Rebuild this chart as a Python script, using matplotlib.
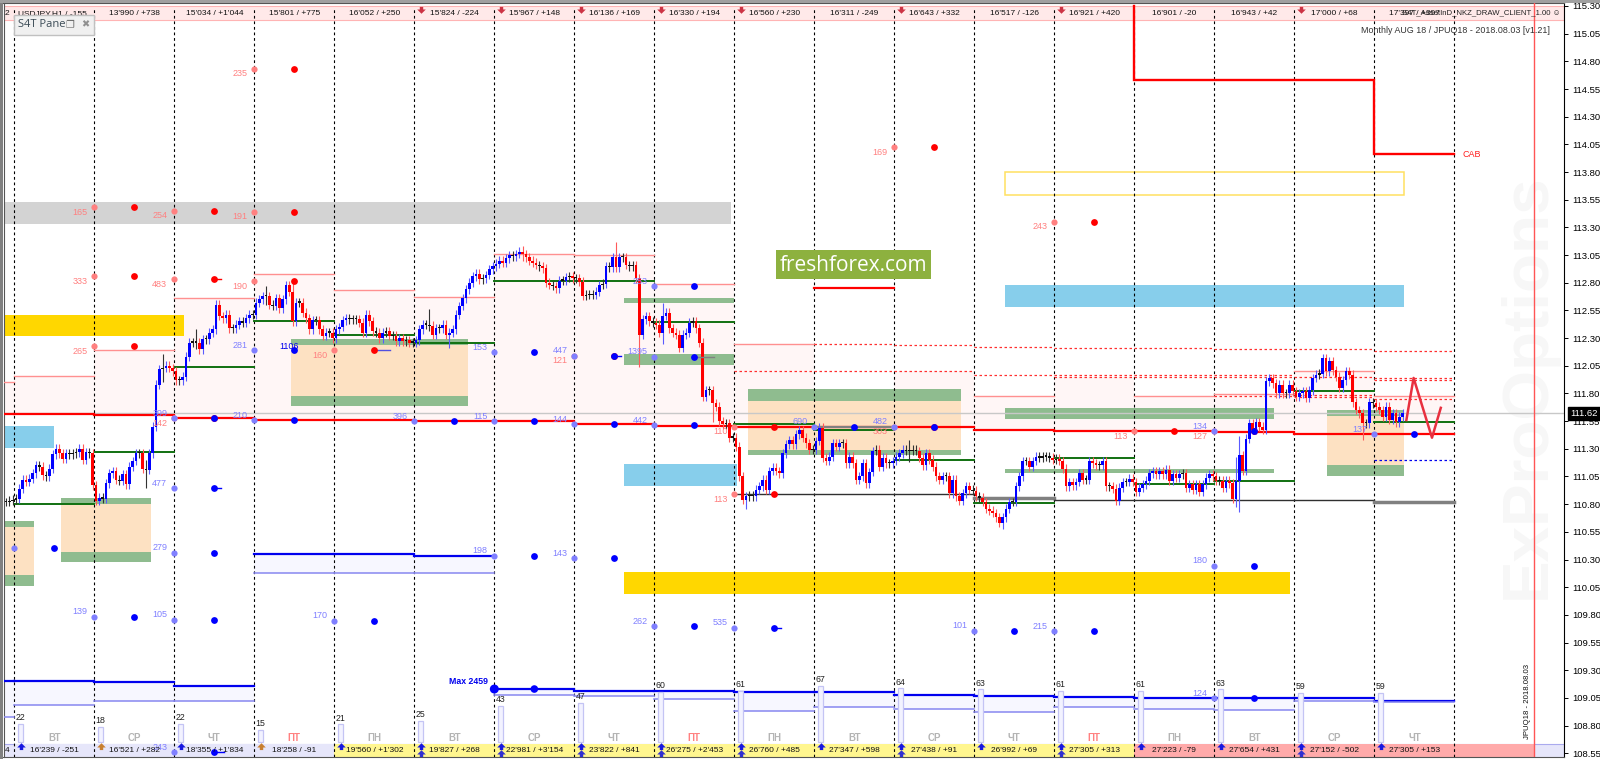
import numpy as np
import matplotlib
matplotlib.use('Agg')
import matplotlib.pyplot as plt
from matplotlib.patches import Rectangle

plt.rcParams['font.family'] = ['Liberation Sans', 'DejaVu Sans']

# hourly closes, one list per day (24 candles a day)
before = [110.82, 110.83, 110.84]
closes = [
    [110.85,110.94,111.02,111.00,111.03,111.08,111.15,111.14,111.06,111.05,111.12,111.25,111.30,111.26,111.21,111.26,111.25,111.26,111.27,111.30,111.20,111.27,111.26,110.97],
    [110.83,110.86,110.85,110.99,111.08,111.10,111.02,111.01,111.07,110.98,111.14,111.19,111.26,111.26,111.12,111.11,111.26,111.50,111.88,112.02,112.03,112.05,112.03,112.00],
    [111.92,111.92,111.95,112.13,112.26,112.26,112.26,112.20,112.29,112.29,112.35,112.38,112.60,112.50,112.48,112.51,112.39,112.39,112.42,112.45,112.44,112.48,112.51,112.51],
    [112.62,112.65,112.68,112.68,112.60,112.59,112.66,112.57,112.65,112.78,112.72,112.45,112.62,112.62,112.53,112.48,112.38,112.46,112.46,112.38,112.32,112.35,112.35,112.30],
    [112.38,112.40,112.46,112.48,112.47,112.47,112.47,112.44,112.35,112.51,112.45,112.36,112.35,112.30,112.35,112.36,112.32,112.32,112.27,112.30,112.27,112.28,112.26,112.26],
    [112.28,112.38,112.42,112.42,112.41,112.33,112.39,112.39,112.42,112.33,112.35,112.38,112.51,112.59,112.66,112.74,112.80,112.86,112.88,112.83,112.84,112.87,112.92,112.95],
    [112.97,113.00,112.98,113.02,113.05,113.04,113.06,113.08,113.06,113.03,113.00,112.98,112.96,112.95,112.93,112.80,112.78,112.77,112.75,112.82,112.82,112.85,112.86,112.84],
    [112.84,112.81,112.68,112.69,112.69,112.69,112.72,112.78,112.79,112.95,112.94,113.03,112.94,113.03,113.03,112.96,112.95,112.96,112.84,112.33,112.47,112.50,112.45,112.44],
    [112.42,112.35,112.50,112.53,112.39,112.35,112.33,112.21,112.33,112.35,112.44,112.45,112.39,112.26,111.77,111.83,111.83,111.71,111.68,111.55,111.52,111.53,111.40,111.40],
    [111.32,111.05,110.84,110.87,110.88,110.87,110.93,110.96,111.02,110.93,111.10,111.13,111.10,111.08,111.26,111.34,111.38,111.34,111.43,111.47,111.40,111.35,111.29,111.29],
    [111.37,111.49,111.22,111.19,111.23,111.35,111.32,111.35,111.35,111.17,111.23,111.17,111.02,111.05,111.17,110.99,111.09,111.28,111.29,111.14,111.22,111.17,111.17,111.19],
    [111.23,111.26,111.29,111.28,111.28,111.29,111.28,111.22,111.15,111.26,111.20,111.14,111.05,111.02,111.05,111.05,110.90,111.02,110.87,110.83,110.90,110.96,110.93,110.92],
    [110.87,110.86,110.82,110.76,110.74,110.72,110.68,110.63,110.68,110.76,110.82,110.82,110.96,111.05,111.19,111.19,111.14,111.19,111.23,111.22,111.23,111.23,111.22,111.20],
    [111.21,111.19,111.12,110.96,111.00,110.97,111.00,111.08,111.02,111.02,111.19,111.17,111.15,111.15,111.19,110.96,110.96,110.94,110.83,110.95,111.00,111.00,111.03,111.00],
    [110.91,110.95,110.98,111.01,111.08,111.10,111.07,111.10,111.07,111.11,111.01,111.07,111.04,111.07,111.08,110.95,110.98,110.93,110.98,110.91,110.98,111.04,111.07,111.05],
    [111.01,111.01,110.95,111.01,110.99,110.85,111.01,111.24,111.10,111.39,111.53,111.47,111.54,111.50,111.47,111.91,111.94,111.89,111.80,111.88,111.80,111.80,111.88,111.82],
    [111.77,111.80,111.82,111.76,111.83,111.94,111.97,111.98,112.12,112.00,112.09,112.01,111.95,111.85,111.92,112.00,111.97,111.72,111.65,111.62,111.53,111.53,111.72,111.71],
    [111.68,111.65,111.59,111.68,111.56,111.62,111.54,111.59,111.62],
]
# day, hour, low, high of the long shadows
long_wicks = [(1,15,110.95,111.20),(1,20,111.90,112.16),(2,6,112.20,112.38),(3,3,112.60,112.77),
              (3,11,112.41,112.81),(5,4,112.36,112.56),(5,10,112.21,112.36),(6,8,113.00,113.13),
              (7,12,112.90,113.17),(7,19,112.04,112.85),(8,2,112.25,112.62),(8,17,111.54,111.75),
              (9,3,110.76,110.90),(11,4,111.18,111.38),(12,8,110.58,110.70),(15,6,110.77,111.23),
              (15,7,110.73,111.42),(16,20,111.38,111.65)]

top_labels = ["13'990 / +738","15'034 / +1'044","15'801 / +775","16'052 / +250","15'824 / -224","15'967 / +148",
              "16'136 / +169","16'330 / +194","16'560 / +230","16'311 / -249","16'643 / +332","16'517 / -126",
              "16'921 / +420","16'901 / -20","16'943 / +42","17'000 / +68","17'397 / +397"]
bottom_labels = ["16'239 / -251","16'521 / +282","18'355 / +1'834","18'258 / -91","19'560 / +1'302","19'827 / +268",
                 "22'981 / +3'154","23'822 / +841","26'275 / +2'453","26'760 / +485","27'347 / +598","27'438 / +91",
                 "26'992 / +69","27'305 / +313","27'223 / -79","27'654 / +431","27'152 / -502","27'305 / +153"]
weekdays = ['ВТ','СР','ЧТ','ПТ','ПН','ВТ','СР','ЧТ','ПТ','ПН','ВТ','СР','ЧТ','ПТ','ПН','ВТ','СР','ЧТ']
volumes = [22,18,22,15,21,25,43,47,60,61,67,64,63,61,61,63,59,59]
band_colors = ['#e6e6fa']*4 + ['#fff68f']*10 + ['#ffaaaa']*4
arrows_bottom = [1,1,1,1,1,2,2,2,2,2,1,2,1,2,1,1,2,1]
arrow_orange = [1,3]
arrows_top = [5,6,7,8,9,11,13,16]

# x0, x1 in days, y0, y1 in price
grey_zones = [(-0.13,8.96,113.33,113.53)]
gold_zones = [(-0.13,2.12,112.315,112.505),(7.62,15.95,109.99,110.19)]
sky_zones = [(-0.13,0.49,111.31,111.505),(7.62,9.03,110.965,111.16),(12.38,17.37,112.58,112.78)]
orange_zones = [(-0.13,0.247,110.16,110.59),(0.587,1.706,110.37,110.80),(3.464,5.672,111.78,112.24),
                (9.166,11.83,111.29,111.73),(16.41,17.37,111.15,111.595)]
green_zones = [(-0.13,0.247,110.59,110.65),(-0.13,0.247,110.06,110.16),(0.587,1.706,110.80,110.855),(0.587,1.706,110.28,110.37),
               (3.464,5.672,112.24,112.29),(3.464,5.672,111.69,111.78),(7.62,9.0,112.62,112.66),(7.62,9.0,112.06,112.155),
               (9.166,11.83,111.73,111.84),(9.166,11.83,111.24,111.29),(12.38,15.74,111.565,111.67),(12.38,15.74,111.08,111.12),
               (16.41,17.37,111.595,111.65),(16.41,17.37,111.05,111.15)]
yellow_box = (12.38,17.37,113.59,113.80)

# levels per day, first entry is day -1
line_days = list(range(-1,18))
red_line = [111.61,111.61,111.605,111.575,111.56,111.56,111.55,111.55,111.52,111.51,111.50,111.50,111.50,111.47,111.46,111.46,111.455,111.43,111.43]
pink_fill = [111.90,111.955,112.19,112.66,112.875,112.73,112.67,113.06,113.055,112.79,112.25,111.50,112.0,111.78,111.95,111.78,111.795,112.005,111.78]
pink_solid_days = [-1,0,1,2,3,4,5,6,7,8,9,12,14,15,16,17]
dashed_red = [(9,112.005),(10,112.25),(10,112.005),(11,112.24),(11,112.0),(12,112.22),(12,111.97),(13,112.21),(13,111.97),(13,111.95),
              (14,112.21),(14,111.97),(14,111.95),(15,112.2),(15,111.965),(15,111.95),(15,111.78),(16,112.2),(16,111.95),(16,111.79),(16,111.765),
              (17,112.18),(17,111.94),(17,111.92),(17,111.75)]
green_line = [110.80,111.275,112.035,112.45,112.33,112.26,112.82,112.815,112.445,111.52,111.47,111.2,110.81,111.22,110.98,111.005,111.82,111.545]
black_line = [(9,110.89,1),(10,110.89,1),(11,110.89,1),(12,110.86,2.5),(13,110.84,1),(14,110.84,1),(15,110.835,1),(16,110.835,1),(17,110.82,2.5)]
blue_thick = [109.20,109.20,109.19,109.155,110.35,110.35,110.335,109.13,109.115,109.11,109.10,109.10,109.08,109.065,109.055,109.045,109.045,109.045,109.02]
blue_thin = [108.875,108.99,109.02,109.02,110.175,110.18,110.175,109.08,109.065,109.04,108.93,108.965,108.95,108.92,108.965,108.95,108.94,109.02,109.01]

red_dots = [(3,114.735,'235'),(1,113.48,'165'),(2,113.45,'254'),(3,113.44,'191'),(11,114.025,'169'),(13,113.35,'243'),
            (1,112.86,'333'),(2,112.83,'483'),(3,112.815,'190'),(1,112.225,'265'),(4,112.19,'160'),(7,112.14,'121'),
            (9,110.89,'113'),(9,111.50,'110'),(11,111.50,'303'),(14,111.46,'113'),(15,111.46,'127'),(2,111.575,'142')]
blue_dots = [(3,112.19,'281'),(6,112.17,'153'),(8,112.13,'1395'),(8,112.77,'253'),(3,111.56,'210'),(5,111.55,'396'),
             (6,111.55,'115'),(7,111.52,'144'),(8,111.515,'442'),(10,111.5,'690'),(11,111.5,'482'),(15,111.46,'134'),
             (17,111.43,'137'),(2,110.945,'477'),(2,111.575,'399'),(0,110.4,''),(2,110.36,'279'),(2,109.755,'105'),
             (1,109.785,'139'),(4,109.745,'170'),(6,110.335,'198'),(7,110.31,'143'),(8,109.695,'262'),(9,109.685,'535'),
             (12,109.655,'101'),(13,109.65,'215'),(15,110.245,'180'),(15,109.045,'124'),(2,108.56,'243'),(7,112.14,'447')]
# day, end day, price, colour of the short stubs right of a dot
dot_tails = [(2.5,2.58,112.83,'#ff0000'),(4.5,4.7,112.19,'#5050e0'),(2.5,2.58,110.945,'#0000ff'),(7.5,7.58,112.14,'#0000ff'),
             (8.5,8.75,112.13,'#808080'),(9.5,9.58,109.685,'#0000ff'),(2.5,2.62,108.56,'#0000ff')]
step_days = [14,14,17,17,18]
step_prices = [115.30,114.635,114.635,113.96,113.96]
forecast_days = [17.4,17.49,17.72,17.83]
forecast_prices = [111.56,111.94,111.40,111.67]
last_price = 111.62
tick_values = [round(108.55+0.25*i,2) for i in range(28)]

fig = plt.figure(figsize=(16,7.59),dpi=100,facecolor='white')
ax = fig.add_axes([3.5/1600,2/759,(1564-3.5)/1600,754/759])
ax.set_xlim(-0.135,19.37)
ax.set_ylim(108.516,115.327)
ax.set_xticks([])
ax.yaxis.tick_right()
ax.set_yticks(tick_values)
ax.set_yticklabels(['%.2f' % t for t in tick_values],fontsize=6.8,color='black')
ax.tick_params(axis='y',length=3,width=0.7,pad=3)
for s in ['left','top','bottom']:
    ax.spines[s].set_linewidth(0.8)
    ax.spines[s].set_color('#555555')
ax.spines['right'].set_color('black')

def zones(lst,color,z=1.5):
    for x0,x1,y0,y1 in lst:
        ax.add_patch(Rectangle((x0,y0),x1-x0,y1-y0,fc=color,ec='none',zorder=z))

# watermark
ax.text(18.92,109.94,'ExProOptions',rotation=90,fontsize=46,fontweight='bold',color='#f7f7f7',ha='center',va='bottom',zorder=0)

# daily pale panels
ld = np.array(line_days)
ax.bar(ld+0.5,np.array(pink_fill)-np.array(red_line),bottom=red_line,width=1,color='#fff6f6',linewidth=0,zorder=0.5)
ax.bar(ld+0.5,np.abs(np.array(blue_thin)-np.array(blue_thick)),bottom=np.minimum(blue_thin,blue_thick),width=1,color='#f7f7ff',linewidth=0,zorder=0.5)

zones(grey_zones,'#d3d3d3')
zones(gold_zones,'#ffd700')
zones(sky_zones,'#87ceeb')
zones(orange_zones,'#fde1c2')
zones(green_zones,'#8fbc8f')
x0,x1,y0,y1 = yellow_box
ax.add_patch(Rectangle((x0,y0),x1-x0,y1-y0,fc='none',ec='#ffe060',lw=1.1,zorder=1.5))

# day separators
for d in range(0,19):
    ax.plot([d,d],[108.52,115.27],color='black',lw=0.8,ls=(0,(2.5,2.5)),zorder=3)
ax.axvline(19,color='#ff5555',lw=1,zorder=3)
ax.axhline(last_price,color='#c8c8c8',lw=1,zorder=2.5)

# level lines
for d,p in zip(line_days,pink_fill):
    if d in pink_solid_days:
        ax.plot([d,d+1],[p,p],color='#ff9090',lw=1,zorder=3)
for d,p in dashed_red:
    ax.plot([d,d+1],[p,p],color='#ff3030',lw=0.9,ls=(0,(2,2)),zorder=3)
for d,p in zip(line_days,red_line):
    ax.plot([d,d+1],[p,p],color='#ff0000',lw=1.6,zorder=4)
for d,p in enumerate(green_line):
    ax.plot([d,d+1],[p,p],color='#107010',lw=1.4,zorder=4)
for d,p,w in black_line:
    ax.plot([d,d+1],[p,p],color='#303030' if w==1 else '#808080',lw=w,zorder=4)
for d,p in zip(line_days,blue_thick):
    ax.plot([d,d+1],[p,p],color='#0000ee',lw=1.6,zorder=4)
for d,p in zip(line_days,blue_thin):
    ax.plot([d,d+1],[p,p],color='#8888f0',lw=1.1,zorder=4)
ax.plot([10,11],[112.755,112.755],color='#ff0000',lw=1.6,zorder=4)
ax.plot([10,11],[111.50,111.50],color='#808080',lw=1.6,zorder=4.5)
ax.plot([17,18],[111.20,111.20],color='#0000ee',lw=0.9,ls=(0,(2,2)),zorder=4)
ax.plot(step_days,step_prices,color='#ff0000',lw=1.7,solid_joinstyle='miter',zorder=4)
ax.plot(forecast_days,forecast_prices,color='#e8303f',lw=1.8,zorder=6)
ax.text(18.1,113.96,'CAB',color='#ff2020',fontsize=6.5,va='center',zorder=7)

# candles
xs,cs = [],[]
for i,c in enumerate(before):
    xs.append(-3/24+(i+0.5)/24)
    cs.append(c)
for d,day in enumerate(closes):
    for h,c in enumerate(day):
        xs.append(d+(h+0.5)/24)
        cs.append(c)
xs = np.array(xs)
cs = np.array(cs)
op = np.r_[cs[0],cs[:-1]]
hi = np.maximum(op,cs)+0.04
lo = np.minimum(op,cs)-0.04
for d,h,l,u in long_wicks:
    k = len(before)+d*24+h
    hi[k] = max(hi[k],u)
    lo[k] = min(lo[k],l)
col = np.where(np.abs(cs-op)<0.012,'#111111',np.where(cs>op,'#0000ff','#ff0000'))
wick = np.where(np.abs(cs-op)<0.012,'#333333',np.where(cs>op,'#5a5aff','#ff5a5a'))
ax.vlines(xs,lo,hi,colors=wick,lw=0.8,zorder=5)
ax.bar(xs,np.maximum(np.abs(cs-op),0.012),bottom=np.minimum(op,cs),width=0.034,color=col,linewidth=0,zorder=5.2)

# dots with their sums
for x0,x1,p,c in dot_tails:
    ax.plot([x0,x1],[p,p],color=c,lw=1,zorder=5.8)
for d,p,t in red_dots:
    ax.scatter([d],[p],s=20,color='#ff8080',linewidth=0,zorder=6)
    ax.scatter([d+0.5],[p],s=24,color='#ff0000',linewidth=0,zorder=6)
    ax.annotate(t,(d,p),xytext=(-7,-5),textcoords='offset pixels',ha='right',va='center',fontsize=6.5,color='#ff8080',zorder=7)
for d,p,t in blue_dots:
    ax.scatter([d],[p],s=20,color='#8080ff',linewidth=0,zorder=6)
    ax.scatter([d+0.5],[p],s=24,color='#0000ff',linewidth=0,zorder=6)
    ax.annotate(t,(d,p),xytext=(-7,5),textcoords='offset pixels',ha='right',va='center',fontsize=6.5,color='#8080ff',zorder=7)
ax.text(3.43,112.225,'1106',fontsize=6.5,color='#0000ee',ha='center',va='center',zorder=7)
ax.scatter([6,6.5],[109.13,109.13],s=[42,30],color='#0000ff',linewidth=0,zorder=6)
ax.text(5.92,109.195,'Max 2459',fontsize=6.3,fontweight='bold',color='#0000ee',ha='right',va='center',zorder=7)

# volume bars
for d,v in enumerate(volumes):
    ax.add_patch(Rectangle((d+0.045,108.65),0.062,v*0.0076,fc='#f2f2ff',ec='#c4c4f4',lw=0.9,zorder=4.6))
    ax.text(d+0.08,108.65+v*0.0076+0.015,str(v),fontsize=6.3,color='#222222',ha='center',va='bottom',zorder=7)

# top and bottom bands
ax.add_patch(Rectangle((-0.135,115.17),19.5,0.13,fc='#ffe9e9',ec='#ffb4b4',lw=0.8,zorder=2))
ax.add_patch(Rectangle((-0.135,108.51),19.5,0.124,fc='#e6e6fa',ec='#aaaaee',lw=0.8,zorder=2))
for d,c in enumerate(band_colors):
    ax.add_patch(Rectangle((d,108.51),1,0.124,fc=c,ec='none',zorder=2.1))
ax.add_patch(Rectangle((18,108.51),1,0.124,fc='#ffaaaa',ec='none',zorder=2.1))
for i,t in enumerate(top_labels):
    ax.text(i+1.5,115.235,t,fontsize=6,ha='center',va='center',color='#111111',zorder=7)
for i,t in enumerate(bottom_labels):
    ax.text(i+0.5,108.572,t,fontsize=6,ha='center',va='center',color='#111111',zorder=7)
    ax.text(i+0.5,108.69,weekdays[i],fontsize=7,fontweight='bold',ha='center',va='center',
            color='#ff8080' if weekdays[i]=='ПТ' else '#b4b4b4',zorder=7)

up = [(-1,0),(0,1),(1,0),(0.4,0),(0.4,-0.6),(-0.4,-0.6),(-0.4,0),(-1,0)]
down = [(x,-y) for x,y in up]
for d,n in enumerate(arrows_bottom):
    c = '#c87f30' if d in arrow_orange else '#1818e0'
    ax.scatter([d+0.08],[108.605],marker=up,s=38,color=c,linewidth=0,zorder=7)
    if n==2:
        ax.scatter([d+0.08],[108.54],marker=up,s=38,color='#3030d0',linewidth=0,zorder=7)
for d in arrows_top:
    ax.scatter([d+0.08],[115.275],marker=down,s=38,color='#cc3344',linewidth=0,zorder=7)

# captions
ax.text(0.04,115.235,'USDJPY,H1 / -155',fontsize=6,ha='left',va='center',color='#111111',zorder=7)
ax.text(19.33,115.235,'S4T_AssetInD_NKZ_DRAW_CLIENT_1.00 ☺',fontsize=5.6,ha='right',va='center',color='#222222',zorder=7)
ax.text(19.2,115.08,'Monthly AUG 18 / JPUQ18 - 2018.08.03 [v1.21]',fontsize=6.4,ha='right',va='center',color='#333333',zorder=7)
ax.text(18.92,108.68,'JPUQ18 - 2018.08.03',fontsize=5.6,rotation=90,ha='center',va='bottom',color='#111111',zorder=7)
ax.text(-0.12,108.572,'4',fontsize=6,ha='left',va='center',color='#111111',zorder=7)
ax.text(-0.12,115.235,'2',fontsize=6,ha='left',va='center',color='#111111',zorder=7)

# green banner
ax.add_patch(Rectangle((9.52,112.834),1.94,0.262,fc='#8db13f',ec='none',zorder=8))
ax.text(10.49,112.96,'freshforex.com',color='white',fontsize=15,family='Open Sans',ha='center',va='center',zorder=9)

# pane box
ax.add_patch(Rectangle((0,115.04),1.0,0.18,fc='#f0f0f0',ec='#c0c0c0',lw=1,zorder=8))
ax.text(0.05,115.13,'S4T Pane',fontsize=8,color='#3a4a55',family='Open Sans',ha='left',va='center',zorder=9)
ax.text(0.69,115.13,'❐',fontsize=7,color='#707070',family='DejaVu Sans',ha='center',va='center',zorder=9)
ax.text(0.885,115.13,'✖',fontsize=7,color='#909090',family='DejaVu Sans',ha='center',va='center',zorder=9)

# last price tag
ax.text(1.004,last_price,'111.62',transform=ax.get_yaxis_transform(),fontsize=6.8,color='white',ha='left',va='center',
        bbox=dict(fc='black',ec='black',pad=1.6),zorder=10,clip_on=False)

# window frame
fig.add_artist(Rectangle((0,0),3/1600,1,fc='#808080',ec='none',transform=fig.transFigure))
fig.add_artist(Rectangle((0,756.5/759),1,2.5/759,fc='#a0a0a0',ec='none',transform=fig.transFigure))

fig.savefig('out.png',dpi=100)
